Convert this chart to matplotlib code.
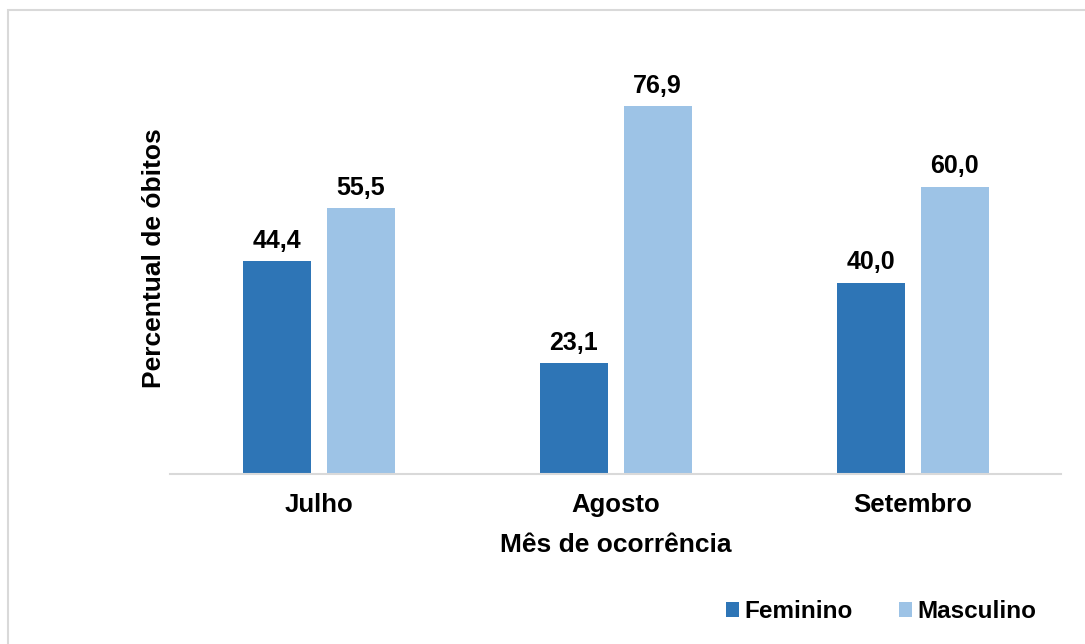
import matplotlib
matplotlib.use("Agg")
import matplotlib.pyplot as plt
from matplotlib.patches import Rectangle
import numpy as np

plt.rcParams['font.family'] = ['Liberation Sans', 'DejaVu Sans']
plt.rcParams['font.weight'] = 'bold'

meses = ["Julho", "Agosto", "Setembro"]
feminino = [44.4, 23.1, 40.0]
masculino = [55.5, 76.9, 60.0]

cor_fem = "#2E75B6"
cor_masc = "#9DC3E6"

fig = plt.figure(figsize=(10.85, 6.44), dpi=100)
ax = fig.add_axes([0.157, 0.264, 0.821, 0.669])

x = np.arange(len(meses))
w = 0.229
off = 0.1414
b1 = ax.bar(x - off, feminino, w, color=cor_fem, label="Feminino")
b2 = ax.bar(x + off, masculino, w, color=cor_masc, label="Masculino")

for bars in (b1, b2):
    for b in bars:
        v = b.get_height()
        ax.annotate(f"{v:.1f}".replace(".", ","), (b.get_x() + b.get_width() / 2, v),
                    xytext=(0, 6), textcoords="offset points",
                    ha="center", va="bottom", fontsize=18, fontweight="bold")

ax.set_xlim(-0.5, 2.5)
ax.set_ylim(0, 90)
ax.set_xticks(x)
ax.set_xticklabels(meses, fontsize=18.5, fontweight="bold")
ax.tick_params(axis="x", length=0, pad=14)
ax.set_yticks([])
for s in ["top", "right", "left"]:
    ax.spines[s].set_visible(False)
ax.spines["bottom"].set_color("#D9D9D9")
ax.spines["bottom"].set_linewidth(1.5)

ax.set_xlabel("Mês de ocorrência", fontsize=19, fontweight="bold", labelpad=11)
ax.set_ylabel("Percentual de óbitos", fontsize=19, fontweight="bold", labelpad=3)

leg = fig.legend(loc="center right", bbox_to_anchor=(0.975, 0.05), ncol=2, frameon=False,
                 prop={"size": 17.5, "weight": "bold"}, handlelength=0.55, handleheight=0.55,
                 handletextpad=0.2, columnspacing=1.9)

# moldura cinza do gráfico
fig.patches.append(Rectangle((8 / 1085, -0.1), 1.2, 1 - 10 / 644 + 0.1, transform=fig.transFigure,
                             fill=False, edgecolor="#D9D9D9", linewidth=1.5))

fig.savefig("out.png", dpi=100)
